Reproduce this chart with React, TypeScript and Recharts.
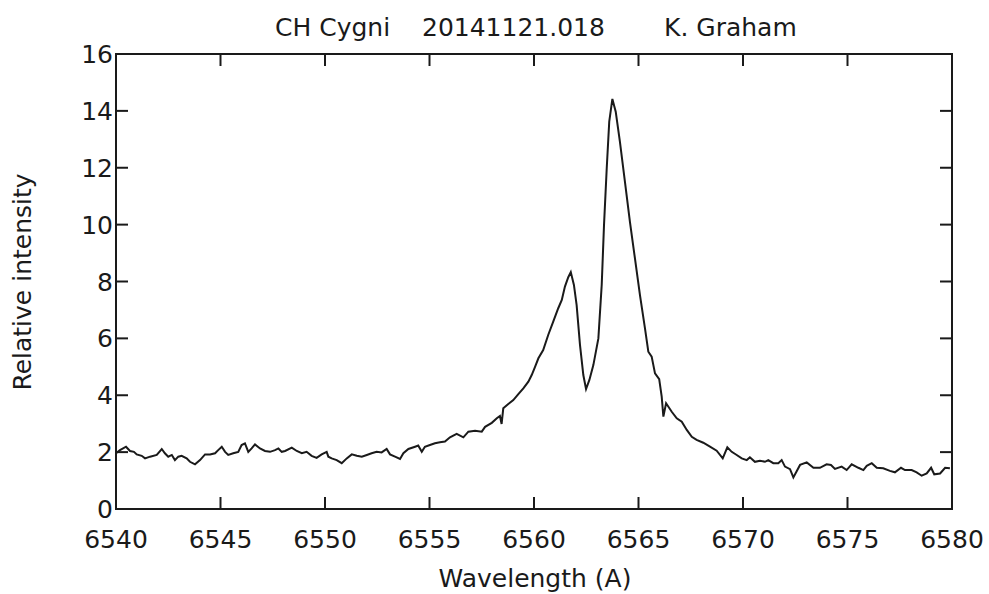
import { LineChart, Line, XAxis, YAxis } from 'recharts';

// wavelength (A) and relative intensity
const wavelengths = [
  6540.0, 6540.19, 6540.48, 6540.67, 6540.86, 6540.99, 6541.23, 6541.39, 6541.63, 6541.95,
  6542.19, 6542.34, 6542.5, 6542.67, 6542.82, 6542.98, 6543.14, 6543.38, 6543.54, 6543.78,
  6544.02, 6544.26, 6544.5, 6544.74, 6544.89, 6545.06, 6545.22, 6545.37, 6545.61, 6545.85,
  6546.01, 6546.17, 6546.33, 6546.49, 6546.65, 6546.89, 6547.13, 6547.37, 6547.61, 6547.77,
  6547.93, 6548.09, 6548.41, 6548.65, 6548.89, 6549.12, 6549.36, 6549.6, 6549.84, 6550.08,
  6550.16, 6550.32, 6550.56, 6550.8, 6551.04, 6551.28, 6551.52, 6551.76, 6552.0, 6552.23,
  6552.47, 6552.71, 6552.95, 6553.11, 6553.35, 6553.59, 6553.75, 6553.99, 6554.31, 6554.46,
  6554.63, 6554.78, 6555.02, 6555.26, 6555.5, 6555.74, 6555.98, 6556.3, 6556.62, 6556.86,
  6557.18, 6557.5, 6557.66, 6557.98, 6558.22, 6558.37, 6558.45, 6558.53, 6558.77, 6559.01,
  6559.25, 6559.49, 6559.73, 6559.89, 6560.05, 6560.21, 6560.44, 6560.68, 6560.92, 6561.16,
  6561.33, 6561.48, 6561.64, 6561.76, 6561.91, 6562.04, 6562.2, 6562.36, 6562.49, 6562.65,
  6562.84, 6563.08, 6563.24, 6563.35, 6563.48, 6563.6, 6563.75, 6563.91, 6564.11, 6564.35,
  6564.59, 6564.83, 6565.07, 6565.31, 6565.47, 6565.63, 6565.79, 6565.99, 6566.11, 6566.19,
  6566.32, 6566.59, 6566.83, 6567.07, 6567.31, 6567.55, 6567.78, 6568.1, 6568.42, 6568.74,
  6569.03, 6569.25, 6569.46, 6569.7, 6569.94, 6570.18, 6570.33, 6570.57, 6570.81, 6571.05,
  6571.21, 6571.45, 6571.69, 6571.85, 6572.01, 6572.25, 6572.41, 6572.73, 6573.05, 6573.37,
  6573.68, 6574.0, 6574.21, 6574.4, 6574.72, 6574.96, 6575.2, 6575.52, 6575.76, 6575.92,
  6576.16, 6576.4, 6576.71, 6577.03, 6577.27, 6577.56, 6577.75, 6578.07, 6578.31, 6578.55,
  6578.79, 6579.0, 6579.15, 6579.43, 6579.67, 6579.9,
];

const intensity = [
  1.96, 2.07, 2.19, 2.04, 2.01, 1.92, 1.87, 1.78, 1.84, 1.9,
  2.11, 1.96, 1.84, 1.9, 1.72, 1.84, 1.87, 1.78, 1.66, 1.57,
  1.72, 1.92, 1.92, 1.96, 2.07, 2.19, 2.01, 1.9, 1.96, 2.01,
  2.25, 2.31, 2.01, 2.13, 2.27, 2.13, 2.04, 2.01, 2.07, 2.13,
  2.01, 2.04, 2.16, 2.04, 1.96, 2.01, 1.87, 1.8, 1.92, 2.01,
  1.84, 1.78, 1.72, 1.61, 1.78, 1.92, 1.87, 1.84, 1.9, 1.96,
  2.01, 1.99, 2.11, 1.92, 1.84, 1.76, 1.96, 2.11, 2.19, 2.23,
  2.01, 2.19, 2.25, 2.31, 2.35, 2.37, 2.52, 2.64, 2.52, 2.72,
  2.75, 2.72, 2.89, 3.03, 3.19, 3.27, 2.99, 3.54, 3.69, 3.83,
  4.04, 4.24, 4.48, 4.71, 5.0, 5.3, 5.59, 6.12, 6.59, 7.06,
  7.35, 7.82, 8.15, 8.33, 7.88, 7.17, 5.77, 4.71, 4.22, 4.54,
  5.06, 6.0, 7.88, 9.99, 11.98, 13.62, 14.42, 13.97, 12.92, 11.51,
  10.1, 8.81, 7.52, 6.35, 5.53, 5.36, 4.77, 4.57, 3.95, 3.25,
  3.72, 3.42, 3.19, 3.07, 2.78, 2.54, 2.43, 2.33, 2.19, 2.05,
  1.78, 2.17, 2.01, 1.9, 1.78, 1.72, 1.82, 1.66, 1.7, 1.66,
  1.72, 1.61, 1.61, 1.72, 1.49, 1.4, 1.11, 1.55, 1.64, 1.45,
  1.45, 1.57, 1.55, 1.41, 1.49, 1.37, 1.57, 1.45, 1.37, 1.52,
  1.61, 1.45, 1.43, 1.34, 1.29, 1.45, 1.37, 1.37, 1.29, 1.17,
  1.25, 1.45, 1.22, 1.25, 1.45, 1.43,
];

const xTicks = [6540, 6545, 6550, 6555, 6560, 6565, 6570, 6575, 6580];
const yTicks = [0, 2, 4, 6, 8, 10, 12, 14, 16];

const title = ['CH Cygni', '20141121.018', 'K. Graham'];

const FONT = '"DejaVu Sans", Verdana, sans-serif';
const INK = '#1a1a1a';
const FS = 25;

// plot box (gnuplot style: ticks point inward on all four sides)
const L = 116, R = 952, T = 54, B = 509, TICK = 12;

function XTick({ x, payload }: any) {
  return (
    <g>
      <line x1={x} x2={x} y1={B} y2={B - TICK} stroke={INK} strokeWidth={2} />
      <line x1={x} x2={x} y1={T} y2={T + TICK} stroke={INK} strokeWidth={2} />
      <text x={x} y={B + 39} textAnchor="middle" fontFamily={FONT} fontSize={FS} fill={INK}>{payload.value}</text>
    </g>
  );
}

function YTick({ y, payload }: any) {
  return (
    <g>
      <line x1={L} x2={L + TICK} y1={y} y2={y} stroke={INK} strokeWidth={2} />
      <line x1={R} x2={R - TICK} y1={y} y2={y} stroke={INK} strokeWidth={2} />
      <text x={L - 3} y={y + 9} textAnchor="end" fontFamily={FONT} fontSize={FS} fill={INK}>{payload.value}</text>
    </g>
  );
}

export default function App() {
  const data = wavelengths.map((w, i) => ({ w, v: intensity[i] }));
  const text = { position: 'absolute' as const, fontFamily: FONT, fontSize: FS, color: INK, whiteSpace: 'nowrap' as const, lineHeight: 1 };

  return (
    <div style={{ position: 'absolute', left: 0, top: 0, width: 989, height: 594, background: '#fff' }}>
      <LineChart width={989} height={594} data={data} margin={{ top: T, right: 989 - R, bottom: 55, left: 56 }}>
        <XAxis dataKey="w" type="number" domain={[6540, 6580]} ticks={xTicks} allowDataOverflow
          height={30} axisLine={false} tickLine={false} tick={<XTick />} interval={0} />
        <YAxis type="number" domain={[0, 16]} ticks={yTicks} allowDataOverflow width={60}
          axisLine={false} tickLine={false} tick={<YTick />} interval={0} />
        <Line type="linear" dataKey="v" stroke={INK} strokeWidth={2} dot={false} isAnimationActive={false} />
      </LineChart>
      <div style={{ position: 'absolute', left: L - 1, top: T - 1, width: R - L + 2, height: B - T + 2, border: `2px solid ${INK}`, boxSizing: 'border-box', pointerEvents: 'none' }} />
      <div style={{ ...text, left: 275, top: 15 }}>{title[0]}</div>
      <div style={{ ...text, left: 422, top: 15 }}>{title[1]}</div>
      <div style={{ ...text, left: 664, top: 15 }}>{title[2]}</div>
      <div style={{ ...text, left: 535, top: 566, transform: 'translateX(-50%)' }}>Wavelength (A)</div>
      <div style={{ ...text, left: 22, top: 282, transform: 'translate(-50%, -50%) rotate(-90deg)' }}>Relative intensity</div>
    </div>
  );
}
